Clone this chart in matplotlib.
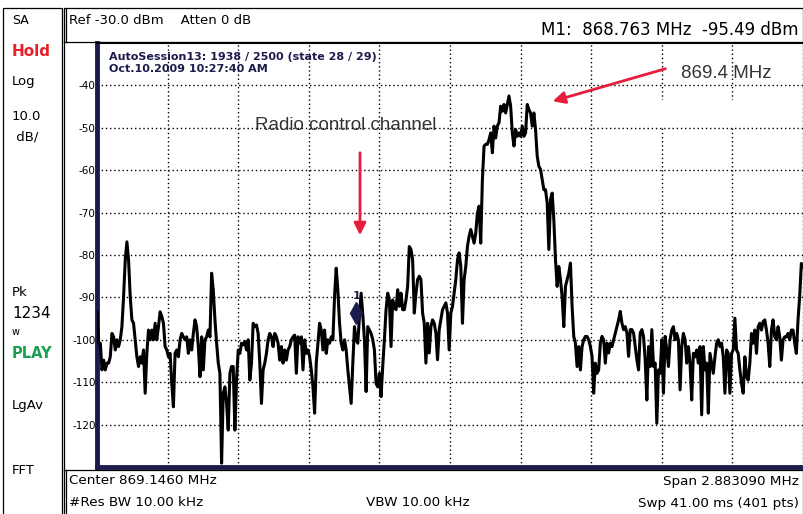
import numpy as np
import matplotlib
matplotlib.use("Agg")
import matplotlib.pyplot as plt
from matplotlib.patches import Rectangle
from matplotlib.transforms import offset_copy

# analyzer settings (from the screen)
center_mhz = 869.1460
span_mhz = 2.883090
ref_level = -30.0
db_per_div = 10.0
marker_freq = 868.763
marker_level = -95.49

# trace level in dBm left to right (one block per division)
level_dbm = [
    # div 1
    -93.4, -100.8, -100.8, -107.1, -104.8, -107.1, -105.5, -105.5, -104.0, -98.5,
    -99.3, -102.4, -100.0, -101.6, -100.0, -96.9, -89.8, -81.2, -76.9, -81.2,
    -89.8, -95.3, -96.1, -100.0, -104.0, -106.3, -104.0, -105.5, -102.4, -112.6,
    -103.2, -97.7, -100.0, -97.7, -100.0, -96.1, -100.0, -96.9, -93.4, -94.5,
    -96.1, -101.6, -102.4,
    # div 2
    -104.0, -103.2, -110.3, -115.8, -103.2, -102.4, -104.0, -100.0, -98.5, -99.3,
    -100.0, -99.3, -103.2, -100.0, -102.4, -98.5, -95.3, -96.9, -101.6, -108.7,
    -99.3, -107.1, -100.0, -99.3, -97.7, -99.3, -84.3, -88.3, -95.3, -100.8,
    -105.5, -107.9, -129.1, -112.6, -111.1, -115.0, -121.3, -107.9, -106.3, -106.3,
    -121.3, -109.5, -102.4,
    # div 3
    -103.2, -100.8, -101.2, -100.4, -102.4, -100.0, -109.5, -105.5, -96.1, -96.9,
    -96.5, -98.5, -105.5, -115.0, -107.1, -105.5, -103.2, -100.0, -98.5, -99.3,
    -101.6, -98.5, -99.3, -100.8, -104.8, -101.6, -105.5, -102.4, -104.8, -102.4,
    -101.6, -100.0, -99.3, -98.9, -107.9, -99.3, -100.8, -99.3, -107.1, -100.0,
    -103.2, -102.4,
    # div 4
    -104.0, -107.1, -111.1, -117.3, -105.5, -100.8, -96.1, -97.7, -102.4, -97.7,
    -103.2, -100.0, -100.8, -99.3, -100.0, -89.8, -83.1, -88.3, -96.1, -100.8,
    -102.4, -100.0, -102.4, -107.1, -111.1, -115.0, -105.5, -96.9, -100.0, -100.8,
    -94.5, -89.0, -94.1, -100.0, -112.2, -96.9, -97.7, -98.5, -100.0, -102.4,
    -110.3, -111.1,
    # div 5
    -107.9, -113.4, -106.3, -100.0, -92.9, -89.0, -90.6, -101.6, -90.6, -92.1,
    -92.9, -88.2, -92.1, -89.0, -92.9, -92.9, -90.6, -87.4, -78.0, -78.7,
    -81.1, -93.7, -89.0, -85.8, -85.0, -85.8, -93.7, -96.1, -105.5, -96.1,
    -103.1, -96.9, -95.3, -96.1, -98.4, -104.7, -97.6, -95.3, -92.9, -92.1,
    -91.3, -93.7, -102.4,
    # div 6
    -93.7, -92.1, -89.0, -85.8, -81.1, -79.5, -82.7, -96.1, -85.8, -82.7,
    -78.0, -75.6, -74.0, -75.6, -77.2, -74.8, -70.1, -68.5, -77.2, -62.2,
    -54.3, -53.9, -53.9, -52.8, -51.2, -55.9, -49.6, -52.4, -49.6, -48.8,
    -44.9, -46.1, -44.5, -46.5, -44.5, -42.5, -44.9, -51.2, -54.3, -50.4,
    -52.0, -51.2, -52.0, -49.6,
    # div 7
    -52.0, -51.2, -44.5, -45.7, -46.5, -49.6, -46.5, -50.4, -56.7, -59.1,
    -59.8, -62.2, -64.6, -64.6, -67.7, -78.7, -66.9, -65.4, -71.7, -81.1,
    -87.4, -82.7, -85.8, -89.8, -96.9, -87.4, -85.8, -84.3, -81.9, -92.1,
    -99.2, -100.8, -106.3, -101.6, -107.1, -101.6, -100.0, -99.2, -99.2, -100.0,
    -101.6, -103.9, -112.6,
    # div 8
    -105.5, -107.9, -107.1, -100.8, -99.2, -100.0, -105.5, -100.8, -103.1, -100.8,
    -101.6, -100.0, -98.4, -96.9, -95.3, -93.3, -96.1, -97.6, -96.9, -98.4,
    -103.9, -97.6, -97.6, -98.4, -101.6, -104.7, -107.1, -98.4, -97.6, -99.2,
    -104.7, -114.2, -101.6, -106.3, -97.6, -106.3, -105.5, -119.7, -107.1, -107.9,
    -100.0, -112.6, -99.2,
    # div 9
    -102.4, -106.3, -100.0, -97.7, -96.9, -100.0, -98.5, -100.0, -111.8, -101.6,
    -98.5, -100.0, -105.5, -101.6, -105.5, -114.2, -103.2, -104.0, -102.4, -105.5,
    -101.6, -117.7, -101.6, -107.1, -105.5, -117.3, -103.2, -105.5, -107.9, -104.0,
    -100.8, -100.0, -101.6, -100.8, -104.0, -112.6, -102.4, -103.2, -112.6, -103.2,
    -102.4, -94.9,
    # div 10
    -102.4, -103.2, -107.1, -110.3, -112.6, -104.0, -108.7, -109.5, -105.5, -98.5,
    -100.8, -97.7, -103.2, -96.9, -96.1, -97.7, -95.7, -95.3, -97.7, -100.8,
    -106.3, -97.7, -95.3, -99.3, -100.0, -96.9, -99.3, -104.8, -100.0, -99.3,
    -99.3, -98.5, -100.0, -97.7, -97.7, -100.8, -103.2, -95.3, -89.8, -82.0,
    -82.8,
]

y_tick_values = [-40, -50, -60, -70, -80, -90, -100, -110, -120]

left_panel = [("SA", 20, "black", "normal", 9), ("Hold", 51, "#e8202a", "bold", 11),
              ("Log", 82, "black", "normal", 9.5), ("10.0", 117, "black", "normal", 9.5),
              (" dB/", 137, "black", "normal", 9.5), ("Pk", 292, "black", "normal", 9.5),
              ("1234", 313, "black", "normal", 11), ("w", 332, "black", "normal", 7),
              ("PLAY", 353, "#1aa050", "bold", 10.5), ("LgAv", 405, "black", "normal", 9.5),
              ("FFT", 470, "black", "normal", 9.5)]

navy = "#1c1c4c"
red = "#e41e3c"
W, H = 804, 514

fig = plt.figure(figsize=(W / 100, H / 100), dpi=100)
fig.patch.set_facecolor("white")

# main trace axes
x0, x1, y0, y1 = 97, 803, 43, 467
ax = fig.add_axes([x0 / W, 1 - y1 / H, (x1 - x0) / W, (y1 - y0) / H])
f_start = center_mhz - span_mhz / 2
f_stop = center_mhz + span_mhz / 2
freqs = np.linspace(f_start, f_stop, len(level_dbm))

ax.set_xlim(f_start, f_stop)
ax.set_ylim(ref_level - 10 * db_per_div, ref_level)
ax.set_xticks(np.linspace(f_start, f_stop, 11))
ax.set_yticks(y_tick_values)
ax.set_yticklabels([str(v) for v in y_tick_values], fontsize=7.5)
ax.tick_params(axis="x", length=0, labelbottom=False)
ax.tick_params(axis="y", length=0, pad=1)
ax.grid(True, color="black", linestyle=(0, (1, 2)), linewidth=1)
ax.set_axisbelow(True)

# white patch behind the "869.4 MHz" label (as in the original)
ax.add_patch(Rectangle((0.71, 0.805), 0.2, 0.06, transform=ax.transAxes,
                       facecolor="white", edgecolor="none", zorder=1.5))

ax.plot(freqs, level_dbm, color="black", linewidth=2.2, zorder=3)

# marker M1
mk = offset_copy(ax.transData, fig=fig, x=0, y=8, units="dots")
ax.plot([marker_freq], [marker_level], marker="d", markersize=11, color=navy,
        transform=mk, zorder=4)
ax.text(marker_freq, marker_level, "1", transform=offset_copy(ax.transData, fig=fig, x=0, y=25, units="dots"),
        ha="center", va="center", fontsize=8, fontweight="bold", color=navy, zorder=4)

for side in ("left", "bottom"):
    ax.spines[side].set_color(navy)
    ax.spines[side].set_linewidth(3.5)
ax.spines["top"].set_linewidth(1.5)
ax.spines["right"].set_color("#999999")

ax.text(0.017, 0.978, "AutoSession13: 1938 / 2500 (state 28 / 29)\nOct.10.2009 10:27:40 AM",
        transform=ax.transAxes, ha="left", va="top", fontsize=8, fontweight="bold",
        color=navy, linespacing=1.15)

# screen chrome in pixel coordinates
over = fig.add_axes([0, 0, 1, 1], facecolor="none")
over.set_xlim(0, W)
over.set_ylim(H, 0)
over.axis("off")

line_kw = dict(color="black", linewidth=0.9)
over.plot([3, 3, 62, 62], [514, 8, 8, 514], **line_kw)
over.plot([64, 64, 803, 803, 64], [42, 8, 8, 42, 42], **line_kw)
over.plot([66, 66], [8, 42], **line_kw)
over.plot([64, 64], [42, 470], **line_kw)
over.plot([64, 803, 803], [470, 470, 514], **line_kw)
over.plot([64, 64], [470, 514], **line_kw)
over.plot([66, 66], [470, 514], **line_kw)

for label, yy, col, wt, fs in left_panel:
    over.text(12, yy, label, ha="left", va="center", fontsize=fs, color=col, fontweight=wt)

over.text(69, 20, "Ref -30.0 dBm    Atten 0 dB", ha="left", va="center", fontsize=9.5)
over.text(799, 30, "M1:  868.763 MHz  -95.49 dBm", ha="right", va="center", fontsize=12)

bottom_fs = 9.7
over.text(69, 481, "Center 869.1460 MHz", ha="left", va="center", fontsize=bottom_fs)
over.text(799, 481, "Span 2.883090 MHz", ha="right", va="center", fontsize=bottom_fs)
over.text(69, 503, "#Res BW 10.00 kHz", ha="left", va="center", fontsize=bottom_fs)
over.text(366, 503, "VBW 10.00 kHz", ha="left", va="center", fontsize=bottom_fs)
over.text(799, 503, "Swp 41.00 ms (401 pts)", ha="right", va="center", fontsize=bottom_fs)

# callouts
over.text(255, 126, "Radio control channel", ha="left", va="center", fontsize=13.5,
          color="#333333", family="Liberation Sans")
over.annotate("", xy=(360, 238), xytext=(360, 150),
              arrowprops=dict(arrowstyle="-|>", color=red, lw=2, mutation_scale=18))
over.text(681, 73, "869.4 MHz", ha="left", va="center", fontsize=13.5,
          color="#333333", family="Liberation Sans")
over.annotate("", xy=(550, 102), xytext=(668, 68),
              arrowprops=dict(arrowstyle="-|>", color=red, lw=2, mutation_scale=18))

fig.savefig("out.png", dpi=100)
